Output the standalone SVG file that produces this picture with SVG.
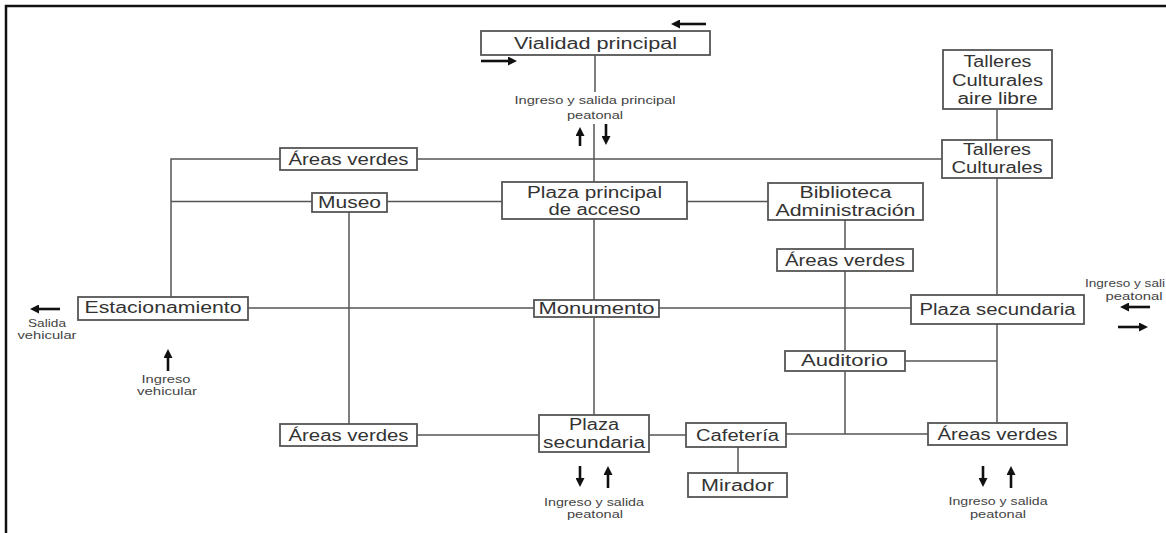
<svg xmlns="http://www.w3.org/2000/svg" width="1166" height="533" viewBox="0 0 1166 533">
<style>
.box{fill:#fff;stroke:#555;stroke-width:1.8}
.lbl{font-family:"Liberation Sans",Arial,sans-serif;font-size:16px;fill:#333;text-anchor:middle}
.sm{font-family:"Liberation Sans",Arial,sans-serif;font-size:11px;fill:#444;text-anchor:middle}
.con{fill:none;stroke:#555;stroke-width:1.5}
.arr{stroke:#111;stroke-width:2.6;fill:none;marker-end:url(#ah)}
</style>
<defs>
<marker id="ah" markerUnits="userSpaceOnUse" markerWidth="10" markerHeight="9" refX="5" refY="4.5" orient="auto">
<path d="M0,0 L9,4.5 L0,9 Z" fill="#111"/>
</marker>
</defs>
<rect width="1166" height="533" fill="#fff"/>
<path d="M6,533 V6 H1166" fill="none" stroke="#111" stroke-width="2.5"/>

<g id="connectors">
<path class="con" d="M595,55 V92"/>
<path class="con" d="M594,124 V182"/>
<path class="con" d="M171,297 V159 H280"/>
<path class="con" d="M417,159 H942"/>
<path class="con" d="M171,201.5 H312"/>
<path class="con" d="M387,201.5 H502"/>
<path class="con" d="M687,201.5 H768"/>
<path class="con" d="M349,212 V424"/>
<path class="con" d="M594,219 V300"/>
<path class="con" d="M248,308 H534"/>
<path class="con" d="M659,308 H911"/>
<path class="con" d="M594,317 V415"/>
<path class="con" d="M417,435 H539"/>
<path class="con" d="M649,435 H686"/>
<path class="con" d="M786,434 H928"/>
<path class="con" d="M738,447 V473"/>
<path class="con" d="M845,220 V249"/>
<path class="con" d="M845,271 V351"/>
<path class="con" d="M845,371 V434"/>
<path class="con" d="M905,361 H997"/>
<path class="con" d="M997,109 V140"/>
<path class="con" d="M997,178 V295"/>
<path class="con" d="M997,324 V423"/>
</g>

<g id="arrows">
<line class="arr" x1="706" y1="24" x2="675" y2="24"/>
<line class="arr" x1="481" y1="61" x2="513" y2="61"/>
<line class="arr" x1="580" y1="146" x2="580" y2="131"/>
<line class="arr" x1="606" y1="124" x2="606" y2="141"/>
<line class="arr" x1="60" y1="309" x2="34" y2="309"/>
<line class="arr" x1="168" y1="371" x2="168" y2="353"/>
<line class="arr" x1="1150" y1="307" x2="1124" y2="307"/>
<line class="arr" x1="1118" y1="327" x2="1144" y2="327"/>
<line class="arr" x1="580" y1="466" x2="580" y2="483"/>
<line class="arr" x1="608" y1="488" x2="608" y2="470"/>
<line class="arr" x1="983" y1="466" x2="983" y2="483"/>
<line class="arr" x1="1011" y1="488" x2="1011" y2="470"/>
</g>

<g id="notes">
<text class="sm" x="595" y="104" textLength="161" lengthAdjust="spacingAndGlyphs">Ingreso y salida principal</text>
<text class="sm" x="595" y="119" textLength="56" lengthAdjust="spacingAndGlyphs">peatonal</text>
<text class="sm" x="47" y="327" textLength="38" lengthAdjust="spacingAndGlyphs">Salida</text>
<text class="sm" x="47" y="339" textLength="59" lengthAdjust="spacingAndGlyphs">vehicular</text>
<text class="sm" x="166" y="383" textLength="49" lengthAdjust="spacingAndGlyphs">Ingreso</text>
<text class="sm" x="167" y="395" textLength="60" lengthAdjust="spacingAndGlyphs">vehicular</text>
<text class="sm" x="1085" y="287" style="text-anchor:start" textLength="80" lengthAdjust="spacingAndGlyphs">Ingreso y sali</text>
<text class="sm" x="1134" y="300" textLength="57" lengthAdjust="spacingAndGlyphs">peatonal</text>
<text class="sm" x="594" y="506" textLength="100" lengthAdjust="spacingAndGlyphs">Ingreso y salida</text>
<text class="sm" x="595" y="518" textLength="56" lengthAdjust="spacingAndGlyphs">peatonal</text>
<text class="sm" x="998" y="505" textLength="99" lengthAdjust="spacingAndGlyphs">Ingreso y salida</text>
<text class="sm" x="998" y="518" textLength="56" lengthAdjust="spacingAndGlyphs">peatonal</text>
</g>

<g id="vialidad-principal"><rect class="box" x="481" y="31" width="229" height="24"/><text class="lbl" x="595.5" y="49" textLength="163" lengthAdjust="spacingAndGlyphs">Vialidad principal</text></g>
<g id="areas-verdes-1"><rect class="box" x="280" y="148" width="137" height="22"/><text class="lbl" x="348.5" y="165" textLength="120" lengthAdjust="spacingAndGlyphs">Áreas verdes</text></g>
<g id="museo"><rect class="box" x="312" y="193" width="75" height="19"/><text class="lbl" x="349.5" y="208" textLength="63" lengthAdjust="spacingAndGlyphs">Museo</text></g>
<g id="plaza-principal"><rect class="box" x="502" y="182" width="185" height="37"/><text class="lbl" x="594.5" y="198" textLength="135" lengthAdjust="spacingAndGlyphs">Plaza principal</text><text class="lbl" x="594.5" y="215" textLength="92" lengthAdjust="spacingAndGlyphs">de acceso</text></g>
<g id="biblioteca"><rect class="box" x="768" y="183" width="155" height="37"/><text class="lbl" x="845.5" y="198" textLength="92" lengthAdjust="spacingAndGlyphs">Biblioteca</text><text class="lbl" x="845.5" y="216" textLength="140" lengthAdjust="spacingAndGlyphs">Administración</text></g>
<g id="talleres-aire-libre"><rect class="box" x="943" y="50" width="109" height="59"/><text class="lbl" x="997.5" y="67" textLength="68" lengthAdjust="spacingAndGlyphs">Talleres</text><text class="lbl" x="997.5" y="86" textLength="91" lengthAdjust="spacingAndGlyphs">Culturales</text><text class="lbl" x="997.5" y="104" textLength="80" lengthAdjust="spacingAndGlyphs">aire libre</text></g>
<g id="talleres-culturales"><rect class="box" x="942" y="140" width="110" height="38"/><text class="lbl" x="997" y="155" textLength="68" lengthAdjust="spacingAndGlyphs">Talleres</text><text class="lbl" x="997" y="173" textLength="91" lengthAdjust="spacingAndGlyphs">Culturales</text></g>
<g id="areas-verdes-2"><rect class="box" x="777" y="249" width="136" height="22"/><text class="lbl" x="845" y="266" textLength="120" lengthAdjust="spacingAndGlyphs">Áreas verdes</text></g>
<g id="estacionamiento"><rect class="box" x="78" y="297" width="170" height="23"/><text class="lbl" x="163" y="313" textLength="157" lengthAdjust="spacingAndGlyphs">Estacionamiento</text></g>
<g id="monumento"><rect class="box" x="534" y="300" width="125" height="17"/><text class="lbl" x="596.5" y="314" textLength="116" lengthAdjust="spacingAndGlyphs">Monumento</text></g>
<g id="plaza-secundaria-1"><rect class="box" x="911" y="295" width="173" height="29"/><text class="lbl" x="997.5" y="315" textLength="156" lengthAdjust="spacingAndGlyphs">Plaza secundaria</text></g>
<g id="auditorio"><rect class="box" x="785" y="351" width="120" height="20"/><text class="lbl" x="844.5" y="366" textLength="87" lengthAdjust="spacingAndGlyphs">Auditorio</text></g>
<g id="areas-verdes-3"><rect class="box" x="280" y="424" width="137" height="22"/><text class="lbl" x="348.5" y="441" textLength="120" lengthAdjust="spacingAndGlyphs">Áreas verdes</text></g>
<g id="plaza-secundaria-2"><rect class="box" x="539" y="415" width="110" height="37"/><text class="lbl" x="594" y="430" textLength="50" lengthAdjust="spacingAndGlyphs">Plaza</text><text class="lbl" x="594" y="448" textLength="102" lengthAdjust="spacingAndGlyphs">secundaria</text></g>
<g id="cafeteria"><rect class="box" x="686" y="423" width="100" height="24"/><text class="lbl" x="737.5" y="441" textLength="83" lengthAdjust="spacingAndGlyphs">Cafetería</text></g>
<g id="mirador"><rect class="box" x="688" y="473" width="99" height="24"/><text class="lbl" x="737.5" y="491" textLength="73" lengthAdjust="spacingAndGlyphs">Mirador</text></g>
<g id="areas-verdes-4"><rect class="box" x="928" y="423" width="139" height="22"/><text class="lbl" x="997.5" y="440" textLength="120" lengthAdjust="spacingAndGlyphs">Áreas verdes</text></g>
</svg>
